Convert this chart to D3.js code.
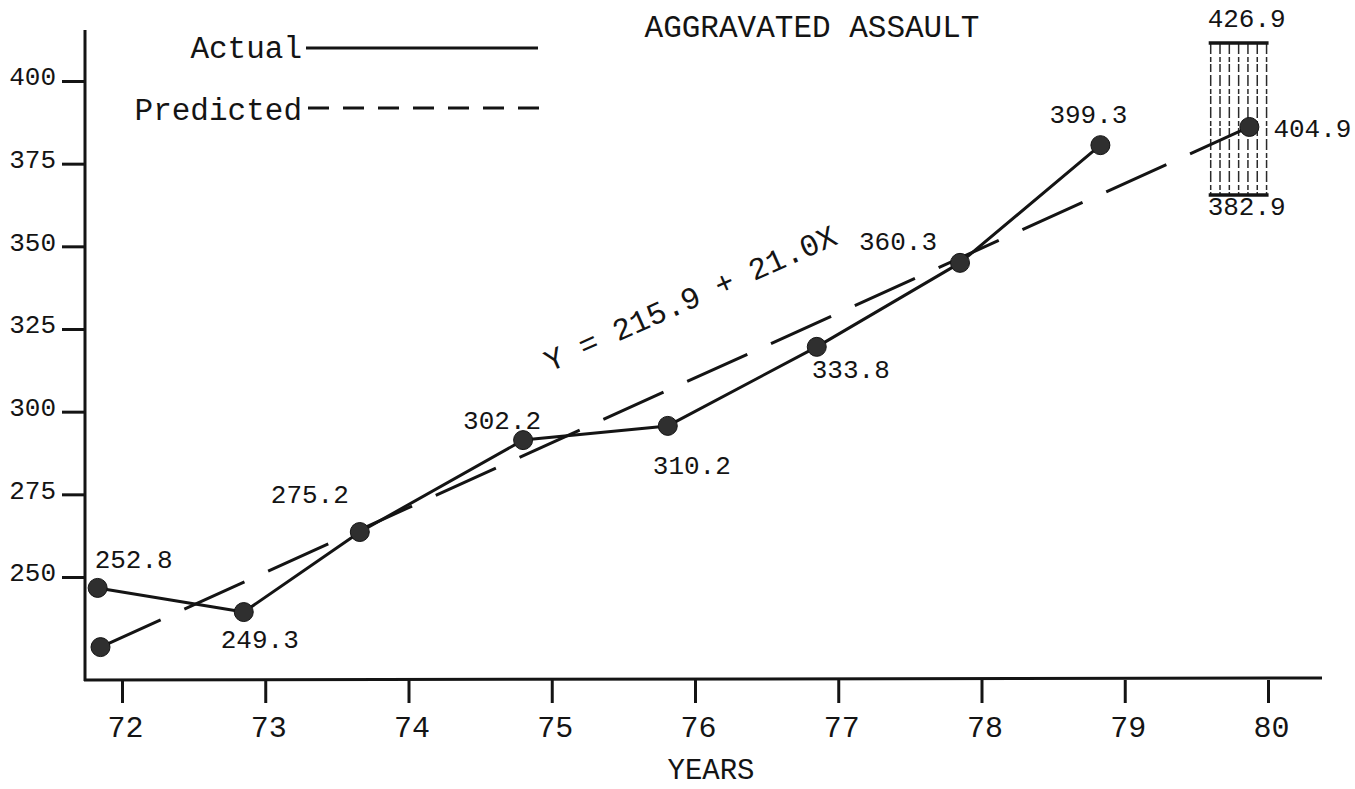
<!DOCTYPE html>
<html>
<head>
<meta charset="utf-8">
<script src="https://cdn.jsdelivr.net/npm/d3@7"></script>
<style>
  html, body { margin: 0; padding: 0; background: #ffffff; }
  svg { display: block; }
  text { font-family: "Liberation Mono", "DejaVu Sans Mono", monospace; fill: #141414; }
</style>
</head>
<body>
<svg id="chart" width="1355" height="789"></svg>
<script>
// ---------------- data ----------------
const yearTicks = [72, 73, 74, 75, 76, 77, 78, 79, 80];
const valueTicks = [250, 275, 300, 325, 350, 375, 400];

// actual series (year position as plotted, value as read against the axis)
const actualYear  = [71.83, 72.85, 73.66, 74.80, 75.81, 76.85, 77.85, 78.83];
const actualValue = [246.7, 239.4, 263.6, 291.4, 295.7, 319.6, 345.0, 380.6];
const actualLabels = ["252.8", "249.3", "275.2", "302.2", "310.2", "333.8", "360.3", "399.3"];

// predicted (regression) line end points
const predictedYear  = [71.85, 79.87];
const predictedValue = [228.8, 386.1];
const predictedLabels = ["", "404.9"];

// prediction interval for 80
const intervalYear  = [79.60, 79.99];
const intervalValue = [365.5, 411.5];
const intervalLabels = ["382.9", "426.9"];

const titleText = "AGGRAVATED ASSAULT";
const xTitle = "YEARS";
const equationText = "Y = 215.9 + 21.0X";
const legendNames = ["Actual", "Predicted"];

// ---------------- layout ----------------
const svg = d3.select("#chart");
const ink = "#141414";

const x = d3.scaleLinear().domain([72, 80]).range([122, 1268]);
const y = d3.scaleLinear().domain([250, 400]).range([577, 81]);

const axisX = 85, axisTop = 30, axisBottomY = 680, axisRight = 1322;

// label offsets (dx, dy) from the points, in px
const actualOffsets = [[-3, -20], [-23, 36], [-89, -29], [-60, -11], [-15, 48], [-5, 31], [-101, -13], [-51, -22]];

// axes lines
svg.append("line").attr("x1", axisX).attr("x2", axisX).attr("y1", axisTop).attr("y2", axisBottomY + 1)
  .attr("stroke", ink).attr("stroke-width", 3);
svg.append("line").attr("x1", axisX - 1).attr("x2", axisRight).attr("y1", axisBottomY).attr("y2", axisBottomY - 2)
  .attr("stroke", ink).attr("stroke-width", 3);

// y axis
const gy = svg.append("g").attr("transform", `translate(${axisX},0)`)
  .call(d3.axisLeft(y).tickValues(valueTicks).tickSize(23).tickPadding(6).tickFormat(d3.format("d")));
gy.select(".domain").remove();
gy.selectAll(".tick line").attr("stroke", ink).attr("stroke-width", 3);
gy.selectAll(".tick text").attr("font-size", 26).attr("fill", ink).attr("dy", "0.15em")
  .style("font-family", '"Liberation Mono", "DejaVu Sans Mono", monospace');

// x axis
const gx = svg.append("g").attr("transform", `translate(0,${axisBottomY})`)
  .call(d3.axisBottom(x).tickValues(yearTicks).tickSize(23).tickPadding(13).tickFormat(d3.format("d")));
gx.select(".domain").remove();
gx.selectAll(".tick line").attr("stroke", ink).attr("stroke-width", 3);
gx.selectAll(".tick text").attr("font-size", 30).attr("fill", ink).attr("dx", 3)
  .style("font-family", '"Liberation Mono", "DejaVu Sans Mono", monospace');

// axis title
svg.append("text").attr("x", 711).attr("y", 779).attr("text-anchor", "middle")
  .attr("font-size", 29).text(xTitle);

// chart title
svg.append("text").attr("x", 812).attr("y", 37).attr("text-anchor", "middle")
  .attr("font-size", 31).text(titleText);

// legend
svg.append("text").attr("x", 302).attr("y", 58).attr("text-anchor", "end").attr("font-size", 31).text(legendNames[0]);
svg.append("line").attr("x1", 306).attr("x2", 538).attr("y1", 48).attr("y2", 48)
  .attr("stroke", ink).attr("stroke-width", 3);
svg.append("text").attr("x", 302).attr("y", 120).attr("text-anchor", "end").attr("font-size", 31).text(legendNames[1]);
svg.append("line").attr("x1", 308).attr("x2", 540).attr("y1", 108).attr("y2", 108)
  .attr("stroke", ink).attr("stroke-width", 3).attr("stroke-dasharray", "21,14");

// prediction interval box
const bx0 = x(intervalYear[0]), bx1 = x(intervalYear[1]);
const by0 = y(intervalValue[1]), by1 = y(intervalValue[0]);
const hatch = d3.range(7).map(i => intervalYear[0] + i * (intervalYear[1] - intervalYear[0]) / 6);
svg.append("g").selectAll("line").data(hatch).join("line")
  .attr("x1", d => x(d)).attr("x2", d => x(d)).attr("y1", by0).attr("y2", by1)
  .attr("stroke", "#2a2a2a").attr("stroke-width", 1.5).attr("stroke-dasharray", "11,3,5,2,8,3");
svg.append("g").selectAll("line").data(intervalValue).join("line")
  .attr("x1", bx0 - 2).attr("x2", bx1 + 2).attr("y1", d => y(d)).attr("y2", d => y(d))
  .attr("stroke", ink).attr("stroke-width", 3.5);
svg.append("text").attr("x", (bx0 + bx1) / 2 + 8).attr("y", by0 - 16).attr("text-anchor", "middle")
  .attr("font-size", 26).text(intervalLabels[1]);
svg.append("text").attr("x", (bx0 + bx1) / 2 + 8).attr("y", by1 + 20).attr("text-anchor", "middle")
  .attr("font-size", 26).text(intervalLabels[0]);

// predicted dashed line
const predPts = predictedYear.map((d, i) => [d, predictedValue[i]]);
const line = d3.line().x(d => x(d[0])).y(d => y(d[1]));
svg.append("path").attr("d", line(predPts)).attr("fill", "none")
  .attr("stroke", ink).attr("stroke-width", 3).attr("stroke-dasharray", "66,26");

// actual line
const actPts = actualYear.map((d, i) => [d, actualValue[i]]);
svg.append("path").attr("d", line(actPts)).attr("fill", "none")
  .attr("stroke", ink).attr("stroke-width", 3).attr("stroke-linejoin", "round");

// markers
svg.append("g").selectAll("circle").data(actPts.concat(predPts)).join("circle")
  .attr("cx", d => x(d[0])).attr("cy", d => y(d[1])).attr("r", 9.5)
  .attr("fill", "#2f2f2f").attr("stroke", ink).attr("stroke-width", 1);

// value labels
svg.append("g").selectAll("text").data(actPts).join("text")
  .attr("x", (d, i) => x(d[0]) + actualOffsets[i][0])
  .attr("y", (d, i) => y(d[1]) + actualOffsets[i][1])
  .attr("font-size", 26).text((d, i) => actualLabels[i]);
svg.append("text").attr("x", x(predictedYear[1]) + 24).attr("y", y(predictedValue[1]) + 10)
  .attr("font-size", 26).text(predictedLabels[1]);

// regression equation
svg.append("text").attr("transform", "translate(550,372) rotate(-24)")
  .attr("font-size", 31).text(equationText);
</script>
</body>
</html>
